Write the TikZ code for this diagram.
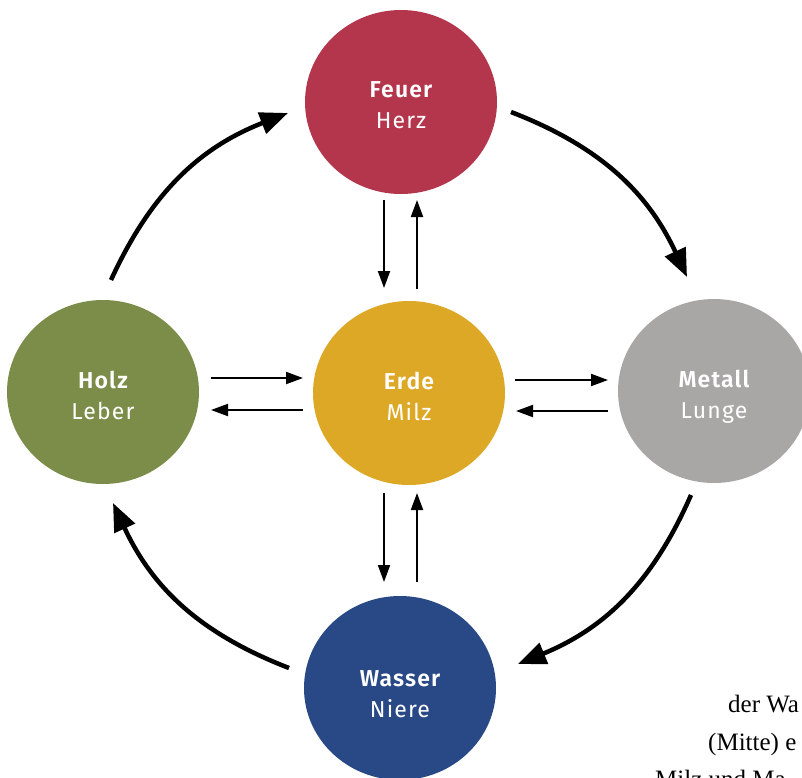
\documentclass[tikz,border=0pt]{standalone}
\usepackage{fontspec}
\setmainfont{Liberation Serif}
\newfontfamily\labfont{Fira Sans}[LetterSpace=5, BoldFont={Fira Sans SemiBold}]
\usetikzlibrary{arrows.meta,shapes.geometric,calc}
\definecolor{cfeuer}{RGB}{179,54,76}
\definecolor{cerde}{RGB}{221,168,38}
\definecolor{cholz}{RGB}{123,141,72}
\definecolor{cmetall}{RGB}{168,167,165}
\definecolor{cwasser}{RGB}{40,72,134}
\begin{document}
\begin{tikzpicture}[x=1pt,y=-1pt,
  elem/.style={ellipse, minimum width=192pt, minimum height=184pt, inner sep=0pt},
  lab/.style={text=white, align=center, inner sep=0pt, yshift=-3pt,
    font=\labfont\fontsize{23}{31}\selectfont},
  thinarrow/.style={line width=2pt, -{Triangle[length=17pt,width=12pt]}},
  thickarrow/.style={line width=4.5pt, -{Triangle[length=28pt,width=22pt]}, bend left=22},
  note/.style={anchor=base west, inner sep=0pt, font=\fontsize{25}{37}\selectfont}]
\useasboundingbox (0,0) rectangle (802,777);
\clip (0,0) rectangle (802,777);
\fill[white] (0,0) rectangle (802,777);

\node[elem, fill=cfeuer]  (feuer)  at (401,102) {};
\node[elem, fill=cerde]   (erde)   at (409,393) {};
\node[elem, fill=cholz]   (holz)   at (103,392) {};
\node[elem, fill=cmetall] (metall) at (714,391) {};
\node[elem, fill=cwasser] (wasser) at (400,688) {};

\node[lab] (lfeuer)  at (feuer)  {\bfseries Feuer\\Herz};
\node[lab] (lerde)   at (erde)   {\bfseries Erde\\Milz};
\node[lab] (lholz)   at (holz)   {\bfseries Holz\\Leber};
\node[lab, yshift=-3pt] (lmetall) at (metall) {\bfseries Metall\\Lunge};
\node[lab, yshift=-3pt] (lwasser) at (wasser) {\bfseries Wasser\\Niere};

% thin arrows
\draw[thinarrow] ($(feuer)+(-17,98)$) -- ($(erde)+(-25,-105)$);
\draw[thinarrow] ($(erde)+(8,-104)$) -- ($(feuer)+(16,98)$);
\draw[thinarrow] ($(holz)+(108,-14)$) -- ($(erde)+(-106,-15)$);
\draw[thinarrow] ($(erde)+(-106,17)$) -- ($(holz)+(108,18)$);
\draw[thinarrow] ($(erde)+(106,-13)$) -- ($(metall)+(-106,-11)$);
\draw[thinarrow] ($(metall)+(-106,20)$) -- ($(erde)+(107,18)$);
\draw[thinarrow] ($(erde)+(-25,100)$) -- ($(wasser)+(-16,-106)$);
\draw[thinarrow] ($(wasser)+(17,-106)$) -- ($(erde)+(8,100)$);

% thick cycle arrows
\draw[thickarrow] ($(holz)+(8,-112)$) to ($(feuer)+(-113,11)$);
\draw[thickarrow] ($(feuer)+(110,10)$) to ($(metall)+(-27,-114)$);
\draw[thickarrow] ($(metall)+(-23,104)$) to ($(wasser)+(118,-24)$);
\draw[thickarrow] ($(wasser)+(-111,-20)$) to ($(holz)+(10,111)$);

% cut-off caption text
\node[note] (t1) at (728,712) {der Wa};
\node[note] (t2) at (708,750) {(Mitte) e};
\node[note] (t3) at (655,787) {Milz und Ma};
\end{tikzpicture}
\end{document}
